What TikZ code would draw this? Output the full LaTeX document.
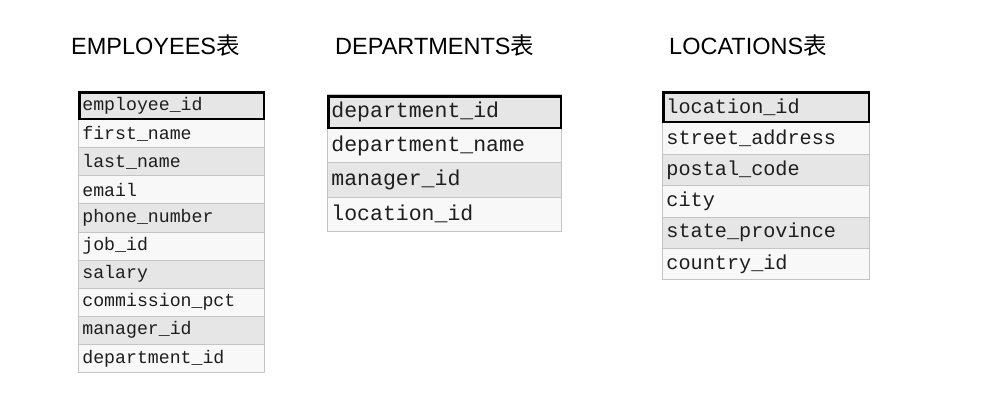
\documentclass[tikz,border=0pt]{standalone}
\usepackage{fontspec}
\setmainfont{Liberation Sans}
\setmonofont{Liberation Mono}
\newfontfamily\cjk{Noto Sans CJK SC}
\definecolor{rowA}{HTML}{E6E6E6}
\definecolor{rowB}{HTML}{F8F8F8}
\definecolor{gridc}{HTML}{C4C4C4}
\definecolor{txt}{HTML}{1E1E1E}
\tikzset{
  cell/.style={draw=gridc, line width=0.8pt, anchor=north west, inner xsep=4pt, inner ysep=0pt,
    align=left, text=txt, font=\ttfamily},
  keyline/.style={draw=black, line width=2.2pt},
  title/.style={anchor=base west, inner sep=0pt, text=black, font=\fontsize{23.5}{27}\selectfont},
}
\begin{document}
\begin{tikzpicture}[x=1pt,y=-1pt]
\useasboundingbox[fill=white] (0,0) rectangle (1000,402);
\node[title] (tE) at (71,54) {EMPLOYEES{\cjk 表}};
\node[title] (tD) at (335,54) {DEPARTMENTS{\cjk 表}};
\node[title] (tL) at (669,54) {LOCATIONS{\cjk 表}};
% EMPLOYEES
\foreach \t [count=\i] in {employee\_id,first\_name,last\_name,email,phone\_number,job\_id,salary,commission\_pct,manager\_id,department\_id}{
  \ifodd\i \def\rc{rowA}\else\def\rc{rowB}\fi
  \node[cell, fill=\rc, minimum height=28.1pt, text width=178pt, font=\ttfamily\fontsize{18.2}{20}\selectfont]
    (e\i) at (78,{91+(\i-1)*28.1}) {\t};
}
\draw[keyline] ([xshift=1.5pt,yshift=-1.5pt]e1.north west) rectangle ([xshift=-1.2pt,yshift=1.2pt]e1.south east);
% DEPARTMENTS
\foreach \t [count=\i] in {department\_id,department\_name,manager\_id,location\_id}{
  \ifodd\i \def\rc{rowA}\else\def\rc{rowB}\fi
  \node[cell, fill=\rc, minimum height=34.2pt, text width=226pt, font=\ttfamily\fontsize{21.5}{24}\selectfont]
    (d\i) at (327,{94+(\i-1)*34.2}) {\t};
}
\draw[keyline] ([xshift=1.5pt,yshift=-2.5pt]d1.north west) rectangle ([xshift=-1.2pt,yshift=1.2pt]d1.south east);
% LOCATIONS
\foreach \t [count=\i] in {location\_id,street\_address,postal\_code,city,state\_province,country\_id}{
  \ifodd\i \def\rc{rowA}\else\def\rc{rowB}\fi
  \node[cell, fill=\rc, minimum height=31.4pt, text width=199pt, font=\ttfamily\fontsize{20.2}{23}\selectfont]
    (l\i) at (662,{91+(\i-1)*31.4}) {\t};
}
\draw[keyline] ([xshift=1.5pt,yshift=-1.5pt]l1.north west) rectangle ([xshift=-1.2pt,yshift=1.2pt]l1.south east);
\end{tikzpicture}
\end{document}
